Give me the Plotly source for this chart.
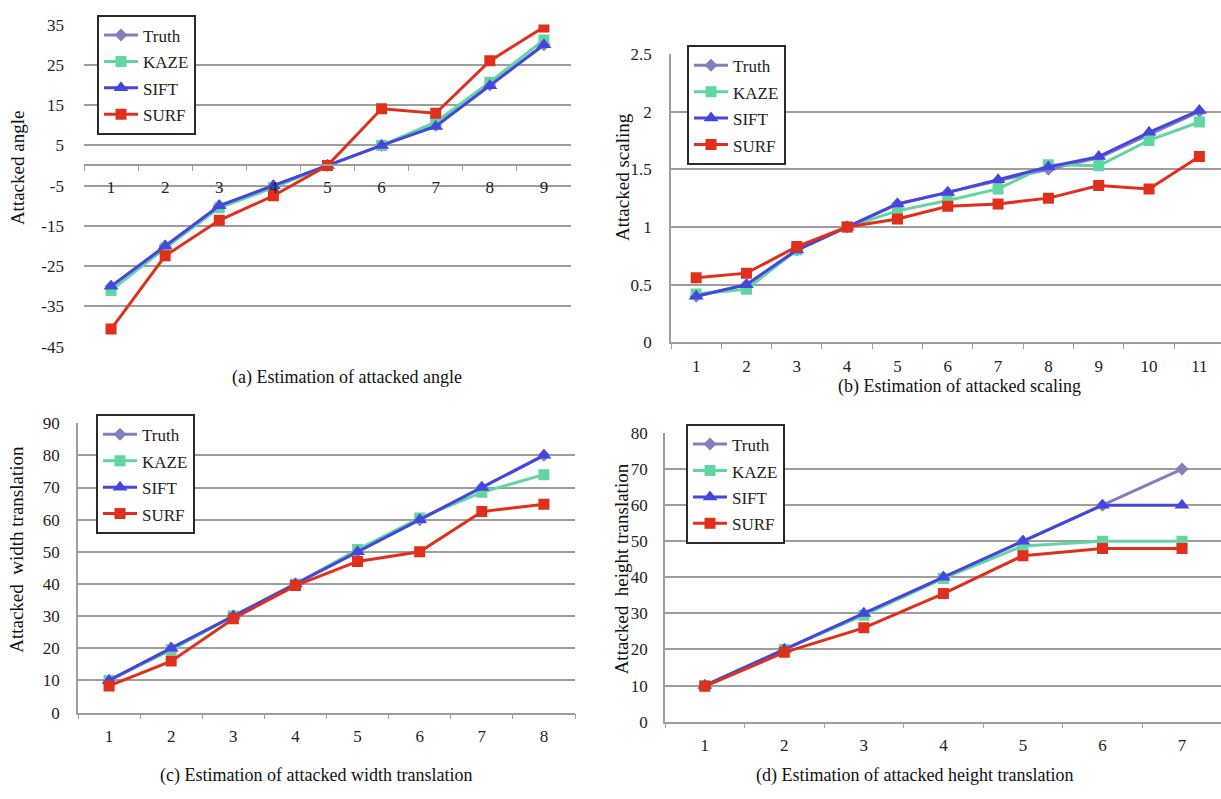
import plotly.graph_objects as go

W, H = 1221, 799

# ---------------- data ----------------
series_names = ["Truth", "KAZE", "SIFT", "SURF"]

a_cats = ["1", "2", "3", "4", "5", "6", "7", "8", "9"]
a_truth = [-30, -20, -10, -5, 0, 5, 10, 20, 30]
a_kaze = [-31, -20.5, -10.5, -5.5, 0, 5, 10.8, 20.7, 31.2]
a_sift = [-30, -20, -10, -5, 0, 5, 9.7, 19.8, 30]
a_surf = [-40.6, -22.4, -13.6, -7.5, 0, 14.1, 13, 26, 34.4]
a_ytick_vals = [35, 25, 15, 5, -5, -15, -25, -35, -45]
a_ytick_text = ["35", "25", "15", "5", "-5", "-15", "-25", "-35", "-45"]

b_cats = ["1", "2", "3", "4", "5", "6", "7", "8", "9", "10", "11"]
b_truth = [0.4, 0.5, 0.8, 1.0, 1.2, 1.3, 1.4, 1.5, 1.6, 1.8, 2.0]
b_kaze = [0.42, 0.46, 0.8, 1.0, 1.14, 1.23, 1.33, 1.54, 1.53, 1.75, 1.91]
b_sift = [0.4, 0.5, 0.8, 1.0, 1.2, 1.3, 1.41, 1.52, 1.61, 1.82, 2.01]
b_surf = [0.56, 0.6, 0.83, 1.0, 1.07, 1.18, 1.2, 1.25, 1.36, 1.33, 1.61]

c_cats = ["1", "2", "3", "4", "5", "6", "7", "8"]
c_truth = [10, 20, 30, 40, 50, 60, 70, 80]
c_kaze = [10, 19.5, 30, 40, 50.7, 60.5, 68.5, 74]
c_sift = [10, 20, 30, 40, 50, 60, 70, 80]
c_surf = [8.3, 16, 29.2, 39.5, 47, 50, 62.5, 64.8]

d_cats = ["1", "2", "3", "4", "5", "6", "7"]
d_truth = [10, 20, 30, 40, 50, 60, 70]
d_kaze = [10, 20, 29.5, 39.7, 48.7, 50, 50]
d_sift = [10, 20, 30, 40, 50, 60, 60]
d_surf = [9.8, 19.2, 26, 35.5, 46, 48, 48]

captions = ["(a) Estimation of attacked angle",
            "(b) Estimation of attacked scaling",
            "(c) Estimation of attacked width translation",
            "(d) Estimation of attacked height translation"]
ytitles = ["Attacked angle", "Attacked scaling",
           "Attacked\u00a0 width translation", "Attacked\u00a0 height translation"]

# ---------------- styles ----------------
FONT = "Liberation Serif, Times New Roman, serif"
colors = {"Truth": "#8080bc", "KAZE": "#62d6a2", "SIFT": "#4646de", "SURF": "#e0301c"}
symbols = {"Truth": "diamond", "KAZE": "square", "SIFT": "triangle-up", "SURF": "square"}
msizes = {"Truth": 10, "KAZE": 11, "SIFT": 13, "SURF": 11}
GRID = "#9e9e9e"


def fx(p):
    return p / W


def fy(p):
    return 1 - p / H


fig = go.Figure()

panels = [
    dict(cats=a_cats, data=[a_truth, a_kaze, a_sift, a_surf], ax="x", ay="y", leg="legend"),
    dict(cats=b_cats, data=[b_truth, b_kaze, b_sift, b_surf], ax="x2", ay="y2", leg="legend2"),
    dict(cats=c_cats, data=[c_truth, c_kaze, c_sift, c_surf], ax="x3", ay="y3", leg="legend3"),
    dict(cats=d_cats, data=[d_truth, d_kaze, d_sift, d_surf], ax="x4", ay="y4", leg="legend4"),
]

for p in panels:
    for name, vals in zip(series_names, p["data"]):
        fig.add_trace(go.Scatter(
            x=p["cats"], y=vals, name="<span style='font-size:17px'>" + name + "</span>",
            mode="lines+markers",
            xaxis=p["ax"], yaxis=p["ay"], legend=p["leg"],
            line=dict(color=colors[name], width=3),
            marker=dict(symbol=symbols[name], size=msizes[name], color=colors[name]),
        ))

tickfont = dict(family=FONT, size=17, color="#222")


def xax(domain, rng, **kw):
    d = dict(domain=domain, type="category", range=rng, tickson="boundaries",
             ticks="outside", ticklen=5, tickwidth=1.2, tickcolor=GRID,
             showline=True, linecolor=GRID, linewidth=1.5, showgrid=False,
             zeroline=False, tickfont=tickfont, ticklabelstandoff=7, fixedrange=True)
    d.update(kw)
    return d


def yax(domain, rng, standoff, showline=True, **kw):
    d = dict(domain=domain, range=rng, showgrid=True,
             gridcolor=GRID, gridwidth=1.5, zeroline=False, showline=showline,
             linecolor=GRID, linewidth=1.5, ticks="", tickfont=tickfont,
             ticklabelstandoff=standoff, fixedrange=True)
    d.update(kw)
    return d


layout = dict(
    width=W, height=H, margin=dict(l=0, r=0, t=0, b=0),
    paper_bgcolor="white", plot_bgcolor="white",
    font=dict(family=FONT, color="#111"),
    # (a)
    xaxis=xax([fx(84), fx(571)], [-0.5, 8.5], anchor="free", position=fy(160)),
    yaxis=yax([fy(346), fy(16)], [-45, 35], 19, showline=False, anchor="x",
              tickmode="array", tickvals=a_ytick_vals, ticktext=a_ytick_text),
    # (b)
    xaxis2=xax([fx(671), 1.0], [-0.5, 10.43], anchor="y2"),
    yaxis2=yax([fy(341.5), fy(46)], [0, 2.5], 14, anchor="x2", tick0=0, dtick=0.5),
    # (c)
    xaxis3=xax([fx(78), fx(575)], [-0.5, 7.5], anchor="y3"),
    yaxis3=yax([fy(720.7), fy(424.3)], [0, 90], 13, anchor="x3", tick0=0, dtick=10),
    # (d)
    xaxis4=xax([fx(665), 1.0], [-0.5, 6.49], anchor="y4"),
    yaxis4=yax([fy(730), fy(434.3)], [0, 80], 12, anchor="x4", tick0=0, dtick=10),
    showlegend=True,
)

legend_pos = {"legend": (97, 6), "legend2": (687, 37), "legend3": (96, 415), "legend4": (686, 425)}
for key, (lx, ly) in legend_pos.items():
    layout[key] = dict(
        x=fx(lx), y=fy(ly), xanchor="left", yanchor="top", xref="paper", yref="paper",
        bgcolor="white", bordercolor="#2a2a2a", borderwidth=2,
        font=dict(family=FONT, size=18, color="#222"),
        itemwidth=34, itemclick=False, itemdoubleclick=False,
    )

fig.update_layout(**layout)

# captions
cap_pos = [(347, 377), (960, 387), (316, 785), (914, 785)]
for text, (cx, cy) in zip(captions, cap_pos):
    fig.add_annotation(text=text, x=fx(cx), y=fy(cy), xref="paper", yref="paper",
                       xanchor="center", yanchor="middle", showarrow=False,
                       font=dict(family=FONT, size=18, color="#111"))

# y-axis titles
yt_pos = [(17, 163), (623, 172), (17, 554), (621, 574)]
for text, (tx, ty) in zip(ytitles, yt_pos):
    fig.add_annotation(text=text, x=fx(tx), y=fy(ty), xref="paper", yref="paper",
                       xanchor="center", yanchor="middle", showarrow=False, textangle=-90,
                       font=dict(family=FONT, size=19, color="#111"))

fig.write_html("out.html")
